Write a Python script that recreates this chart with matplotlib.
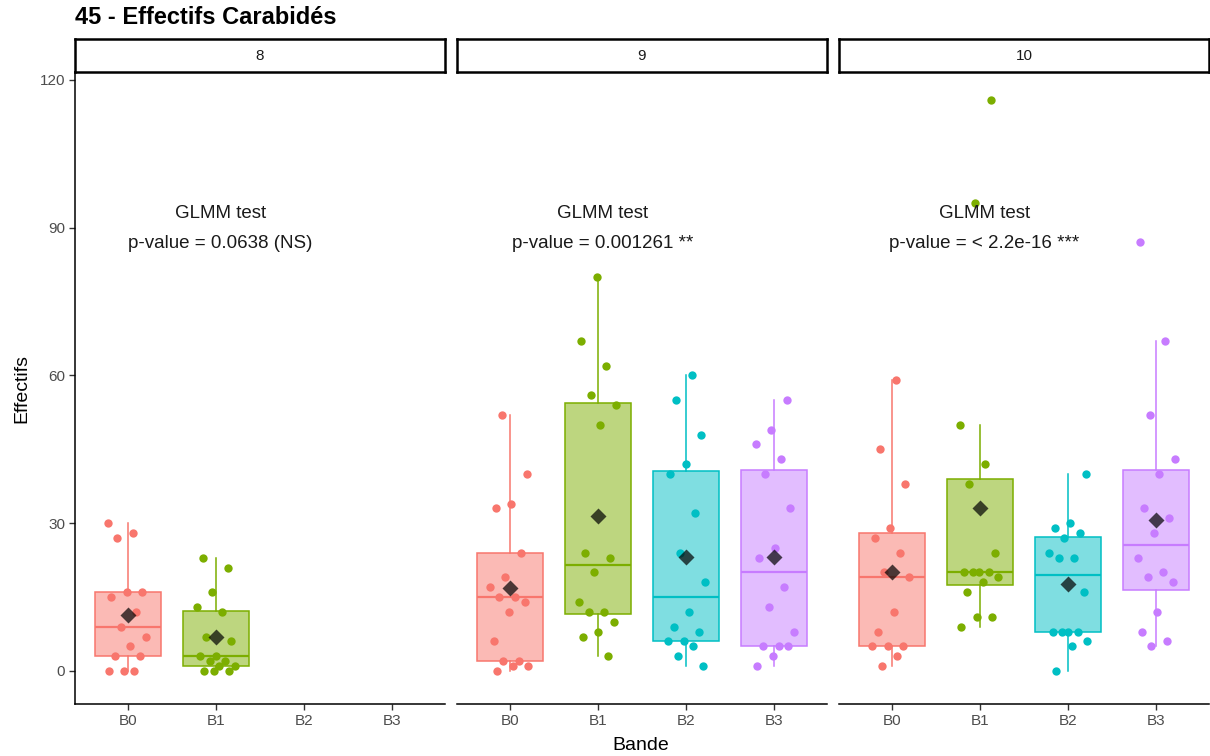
import numpy as np
import matplotlib
matplotlib.use("Agg")
import matplotlib.pyplot as plt

plt.rcParams["font.family"] = ["Liberation Sans", "DejaVu Sans"]

# data (counts per Bande, per facet)
facets = ["8", "9", "10"]
bandes = ["B0", "B1", "B2", "B3"]
colors = ["#F8766D", "#7CAE00", "#00BFC4", "#C77CFF"]

f8_b0 = [30, 28, 27, 16, 16, 15, 12, 9, 7, 5, 3, 3, 0, 0, 0]
f8_b1 = [23, 21, 16, 13, 12, 7, 6, 3, 3, 2, 2, 1, 1, 0, 0, 0]
f9_b0 = [52, 40, 34, 33, 24, 19, 17, 15, 15, 14, 12, 6, 2, 2, 1, 1, 0]
f9_b1 = [80, 67, 62, 56, 54, 50, 24, 23, 20, 14, 12, 12, 10, 8, 7, 3]
f9_b2 = [60, 55, 48, 42, 40, 32, 24, 18, 12, 9, 8, 6, 6, 5, 3, 1]
f9_b3 = [55, 49, 46, 43, 40, 33, 25, 23, 17, 13, 8, 5, 5, 5, 3, 1]
f10_b0 = [59, 45, 38, 29, 27, 24, 20, 19, 12, 8, 5, 5, 5, 3, 1]
f10_b1 = [116, 95, 50, 42, 38, 24, 20, 20, 20, 20, 19, 18, 16, 11, 11, 9]
f10_b2 = [40, 30, 29, 28, 27, 24, 23, 23, 16, 8, 8, 8, 8, 6, 5, 0]
f10_b3 = [87, 67, 52, 43, 40, 33, 31, 28, 23, 20, 19, 18, 12, 8, 6, 5]

facet_data = [
    [f8_b0, f8_b1, [], []],
    [f9_b0, f9_b1, f9_b2, f9_b3],
    [f10_b0, f10_b1, f10_b2, f10_b3],
]
annot = [
    "GLMM test\np-value = 0.0638 (NS)",
    "GLMM test\np-value = 0.001261 **",
    "GLMM test\np-value = < 2.2e-16 ***",
]
yticks = [0, 30, 60, 90, 120]

W, H = 1210, 756
fig = plt.figure(figsize=(W / 100, H / 100), dpi=100)

lefts = [75, 457, 839]
pw = 370
bottom_px, top_px = 704, 72
strip_top = 39

for k in range(3):
    ax = fig.add_axes([lefts[k] / W, (H - bottom_px) / H, pw / W, (bottom_px - top_px) / H])
    for i, vals in enumerate(facet_data[k]):
        if len(vals) == 0:
            continue
        x = i + 1
        c = colors[i]
        bp = ax.boxplot([vals], positions=[x], widths=0.75, patch_artist=True,
                        showfliers=False, showcaps=False, whis=1.5)
        for b in bp["boxes"]:
            b.set_facecolor(matplotlib.colors.to_rgba(c, 0.5))
            b.set_edgecolor(c)
            b.set_linewidth(1.1)
        for w in bp["whiskers"]:
            w.set_color(c)
            w.set_linewidth(1.1)
        for m in bp["medians"]:
            m.set_color(c)
            m.set_linewidth(1.6)
        # deterministic jitter
        n = len(vals)
        offs = ((np.arange(n) * 0.618 + 0.3 * k + 0.17 * i) % 1 - 0.5) * 0.46
        ax.plot(x + offs, vals, "o", color=c, ms=6, mec="none", zorder=3)
        ax.plot([x], [np.mean(vals)], "D", color="black", alpha=0.7, ms=8,
                mec="none", zorder=4)

    ax.text(2.05, 89.8, annot[k], ha="center", va="center", fontsize=13.5,
            color="#1a1a1a", linespacing=2.0, multialignment="center")

    ax.set_xlim(0.4, 4.6)
    ax.set_ylim(-6.7, 121.6)
    ax.set_xticks([1, 2, 3, 4])
    ax.set_xticklabels(bandes, fontsize=11, color="#4D4D4D")
    for s in ["top", "right"]:
        ax.spines[s].set_visible(False)
    ax.spines["bottom"].set_linewidth(1.1)
    ax.tick_params(axis="x", length=4, width=1, color="#333333", pad=3)
    if k == 0:
        ax.set_yticks(yticks)
        ax.set_yticklabels([str(t) for t in yticks], fontsize=11, color="#4D4D4D")
        ax.tick_params(axis="y", length=4, width=1, color="#333333", pad=3)
        ax.spines["left"].set_linewidth(1.1)
        ax.set_ylabel("Effectifs", fontsize=14, labelpad=7)
    else:
        ax.spines["left"].set_visible(False)
        ax.set_yticks([])

    # strip
    sax = fig.add_axes([lefts[k] / W, (H - top_px) / H, pw / W, (top_px - strip_top) / H])
    sax.set_xticks([])
    sax.set_yticks([])
    for s in sax.spines.values():
        s.set_linewidth(1.8)
        s.set_color("black")
    sax.text(0.5, 0.5, facets[k], ha="center", va="center", fontsize=11,
             color="#1a1a1a", transform=sax.transAxes)

fig.text(75 / W, 1 - 17 / H, "45 - Effectifs Carabidés", ha="left", va="center",
         fontsize=17, fontweight="bold")
fig.text(641 / W, 1 - 745 / H, "Bande", ha="center", va="center", fontsize=14)

fig.savefig("out.png", dpi=100)
